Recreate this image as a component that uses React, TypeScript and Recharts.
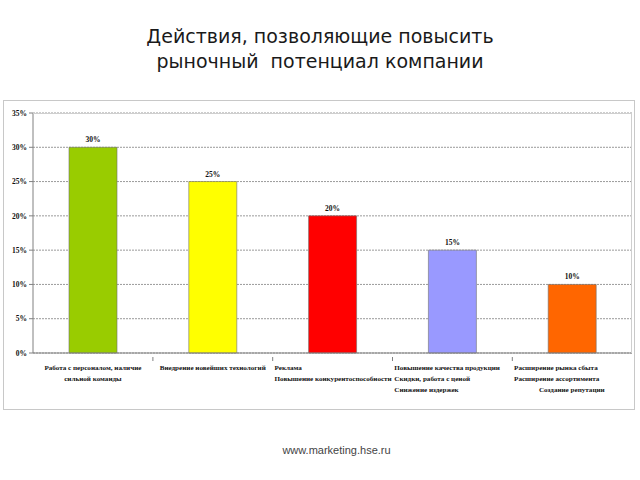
import { BarChart, Bar, XAxis, YAxis, CartesianGrid, Cell, LabelList } from "recharts";

const categories = [
  "Работа с персоналом",
  "Внедрение технологий",
  "Реклама",
  "Качество продукции",
  "Расширение рынка",
];
const shares = [30, 25, 20, 15, 10];
const barColors = ["#99cc00", "#ffff00", "#ff0000", "#9999ff", "#ff6600"];
const yTicks = [0, 5, 10, 15, 20, 25, 30, 35];

// category captions, one array of lines per bar
const captionLines = [
  ["Работа с персоналом, наличие", "сильной команды"],
  ["Внедрение новейших технологий"],
  ["Реклама", "Повышение конкурентоспособности"],
  ["Повышение качества продукции", "Скидки, работа с ценой", "Снижение издержек"],
  ["Расширение рынка сбыта", "Расширение ассортимента", "\u00a0".repeat(14) + "Создание репутации"],
];
const captionAnchor = ["middle", "middle", "start", "start", "start"];

const data = categories.map((name, i) => ({ name, value: shares[i] }));

const BAND = 120;
const labelFont = "'Liberation Serif', 'Times New Roman', serif";

function CategoryTick(props: any) {
  const { x, y, payload, index } = props;
  const anchor = captionAnchor[index];
  const tx = anchor === "middle" ? x : x - BAND / 2 + 2;
  return (
    <g>
      {index < categories.length - 1 && (
        <line x1={x + BAND / 2} x2={x + BAND / 2} y1={y - 4} y2={y} stroke="#808080" />
      )}
      <text
        x={tx}
        y={y + 9}
        textAnchor={anchor}
        fontFamily={labelFont}
        fontWeight="bold"
        fontSize={7.1}
        fill="#111"
        style={{ whiteSpace: "pre" }}
      >
        {captionLines[index].map((line, k) => (
          <tspan key={k} x={tx} dy={k === 0 ? 0 : 11}>
            {line}
          </tspan>
        ))}
      </text>
      <title>{payload.value}</title>
    </g>
  );
}

export default function App() {
  return (
    <div style={{ position: "absolute", left: 0, top: 0, width: 640, height: 480, background: "#fff" }}>
      <div
        style={{
          position: "absolute",
          left: 0,
          top: 24,
          width: 640,
          textAlign: "center",
          fontFamily: "'DejaVu Sans', sans-serif",
          fontSize: 19,
          lineHeight: "25px",
          color: "#1a1a1a",
        }}
      >
        Действия, позволяющие повысить
        <br />
        рыночный&nbsp; потенциал компании
      </div>

      <div
        style={{
          position: "absolute",
          left: 3,
          top: 100,
          width: 632,
          height: 310,
          border: "1px solid #c8c8c8",
          boxSizing: "border-box",
        }}
      />

      <div style={{ position: "absolute", left: 0, top: 0 }}>
        <BarChart
          width={640}
          height={480}
          data={data}
          margin={{ top: 113, right: 8, bottom: 67, left: 3 }}
          barSize={48}
        >
          <CartesianGrid vertical={false} stroke="#9a9a9a" strokeDasharray="2 1" />
          <XAxis
            dataKey="name"
            height={60}
            axisLine={{ stroke: "#808080" }}
            tickLine={false}
            tick={<CategoryTick />}
            interval={0}
          />
          <YAxis
            width={30}
            domain={[0, 35]}
            ticks={yTicks}
            interval={0}
            tickFormatter={(v) => `${v}%`}
            axisLine={{ stroke: "#808080" }}
            tickLine={{ stroke: "#808080" }}
            tickSize={4}
            tick={{ fontFamily: labelFont, fontWeight: "bold", fontSize: 7.5, fill: "#111" }}
          />
          <Bar dataKey="value" isAnimationActive={false} stroke="#6f6f6f" strokeWidth={0.6}>
            {data.map((d, i) => (
              <Cell key={d.name} fill={barColors[i]} />
            ))}
            <LabelList
              dataKey="value"
              position="top"
              offset={5}
              formatter={(v: any) => `${v}%`}
              style={{ fontFamily: labelFont, fontWeight: "bold", fontSize: 7.5, fill: "#111" }}
            />
          </Bar>
        </BarChart>
      </div>

      <div
        style={{
          position: "absolute",
          left: 33,
          top: 113,
          width: 599,
          height: 240,
          borderTop: "1px solid #cfcfcf",
          borderRight: "1px solid #cfcfcf",
          boxSizing: "border-box",
          pointerEvents: "none",
        }}
      />

      <div
        style={{
          position: "absolute",
          left: 0,
          top: 444,
          width: 673,
          textAlign: "center",
          fontFamily: "'Liberation Sans', Arial, sans-serif",
          fontSize: 11,
          color: "#444",
        }}
      >
        www.marketing.hse.ru
      </div>
    </div>
  );
}
